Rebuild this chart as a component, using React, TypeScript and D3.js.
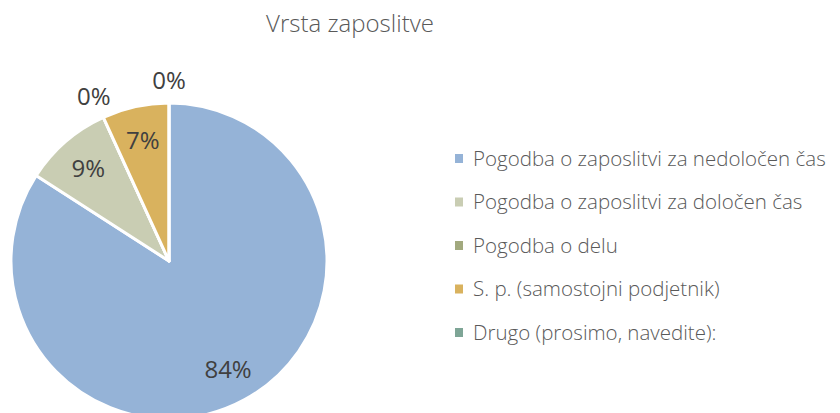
import React from "react";
import * as d3 from "d3";

const categories = [
  "Pogodba o zaposlitvi za nedoločen čas",
  "Pogodba o zaposlitvi za določen čas",
  "Pogodba o delu",
  "S. p. (samostojni podjetnik)",
  "Drugo (prosimo, navedite):",
];
const values = [37, 4, 0, 3, 0];
const colors = ["#95B3D7", "#C9CDB3", "#A2A97E", "#D9B25E", "#7EA596"];
const title = "Vrsta zaposlitve";

const W = 840;
const H = 413;
const cx = 169;
const cy = 261;
const r = 158;
const FONT = "'Open Sans', 'Noto Sans', sans-serif";

export default function App() {
  const pie = d3.pie<number>().sort(null).value((d) => d)(values);
  const arc = d3.arc<d3.PieArcDatum<number>>().innerRadius(0).outerRadius(r);
  const total = d3.sum(values);
  return (
    <svg width={W} height={H} style={{ position: "absolute", left: 0, top: 0 }}>
      <rect width={W} height={H} fill="#fff" />
      <text x={350} y={32} textAnchor="middle" fontFamily={FONT} fontSize={24} fill="#595959" fontWeight={300}>
        {title}
      </text>
      <g transform={`translate(${cx},${cy})`}>
        {pie.map((p, i) => (
          <path key={i} d={arc(p) || ""} fill={colors[i]} stroke="#fff" strokeWidth={3} strokeLinejoin="round" />
        ))}
        {pie.map((p, i) => {
          const mid = (p.startAngle + p.endAngle) / 2;
          const inside = p.value > 0;
          const d = inside ? r * 0.78 : r + 23;
          const x = Math.sin(mid) * d;
          const y = -Math.cos(mid) * d;
          return (
            <text key={"l" + i} x={x} y={y} dy="0.36em" textAnchor="middle" fontFamily={FONT} fontSize={24} fill="#404040">
              {Math.round((p.value / total) * 100)}%
            </text>
          );
        })}
      </g>
      <g>
        {categories.map((c, i) => (
          <g key={c} transform={`translate(455,${158.5 + i * 43.5})`}>
            <rect x={0} y={-4.5} width={8} height={9} fill={colors[i]} />
            <text x={18} y={0} dy="0.36em" fontFamily={FONT} fontSize={20.5} fill="#595959" fontWeight={300}>
              {c}
            </text>
          </g>
        ))}
      </g>
    </svg>
  );
}
